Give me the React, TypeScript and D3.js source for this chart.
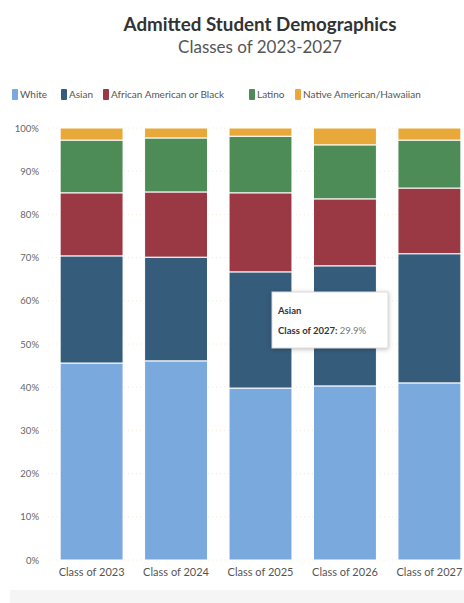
import React, { useRef, useEffect } from "react";
import * as d3 from "d3";

const classes = ["Class of 2023", "Class of 2024", "Class of 2025", "Class of 2026", "Class of 2027"];
const groups = ["White", "Asian", "African American or Black", "Latino", "Native American/Hawaiian"];
const legendLabels = ["White", "Asian", "African American or Black", "Latino", "Native American/Hawaiian"];

const white = [45.6, 46.1, 39.8, 40.3, 41.0];
const asian = [24.8, 24.0, 26.9, 27.8, 29.9];
const black = [14.6, 15.1, 18.3, 15.5, 15.2];
const latino = [12.2, 12.5, 13.1, 12.5, 11.1];
const native = [2.8, 2.3, 1.9, 3.9, 2.8];

const yTicks = [0, 10, 20, 30, 40, 50, 60, 70, 80, 90, 100];
const colors = ["#79a9dd", "#365c7c", "#9a3944", "#4d8c57", "#e8a83a"];

const W = 464;
const H = 603;

const App = () => {
  const ref = useRef<SVGSVGElement>(null);

  useEffect(() => {
    const svg = d3.select(ref.current);
    svg.selectAll("*").remove();
    const font = "Lato, 'Open Sans', sans-serif";

    const rows = classes.map((c, i) => ({
      cls: c,
      White: white[i],
      Asian: asian[i],
      "African American or Black": black[i],
      Latino: latino[i],
      "Native American/Hawaiian": native[i],
    }));
    const stacked = d3.stack<any>().keys(groups)(rows);

    const x = d3.scaleBand().domain(classes).range([50, 471]).paddingInner(0.255).paddingOuter(0.12);
    const y = d3.scaleLinear().domain([0, 100]).range([560, 128]);
    const color = d3.scaleOrdinal<string>().domain(groups).range(colors);

    // footer band
    svg.append("rect").attr("x", 10).attr("y", 590).attr("width", W - 10).attr("height", 13).attr("fill", "#f5f5f5");

    // title
    svg.append("text").attr("x", 260).attr("y", 31).attr("text-anchor", "middle")
      .attr("font-family", font).attr("font-weight", 700).attr("font-size", 18.8).attr("fill", "#333")
      .text("Admitted Student Demographics");
    svg.append("text").attr("x", 260).attr("y", 53).attr("text-anchor", "middle")
      .attr("font-family", font).attr("font-size", 17).attr("fill", "#555")
      .text("Classes of 2023-2027");

    // legend
    const legendX = [12, 61, 103, 249, 295];
    const lg = svg.append("g").attr("font-family", font).attr("font-size", 10).attr("fill", "#555");
    groups.forEach((g, i) => {
      lg.append("rect").attr("x", legendX[i]).attr("y", 89).attr("width", 6).attr("height", 11)
        .attr("rx", 1).attr("fill", color(g));
      lg.append("text").attr("x", legendX[i] + 8).attr("y", 98).text(legendLabels[i]);
    });

    // y axis
    const yAxis = svg.append("g").attr("transform", "translate(40,0)")
      .call(d3.axisLeft(y).tickValues(yTicks).tickFormat((d) => `${d}%`).tickSize(0))
      .call((g) => g.select(".domain").remove());
    yAxis.selectAll("text").attr("font-family", font).attr("font-size", 9.5).attr("fill", "#666").attr("dx", 2);

    // faint gridlines
    svg.append("g").selectAll("line").data(yTicks).join("line")
      .attr("x1", 48).attr("x2", W).attr("y1", (d) => y(d)).attr("y2", (d) => y(d))
      .attr("stroke", "#f3ead8").attr("stroke-dasharray", "1,3");

    // bars
    svg.append("g").selectAll("g").data(stacked).join("g")
      .attr("fill", (d) => color(d.key))
      .selectAll("rect").data((d) => d).join("rect")
      .attr("x", (d) => x(d.data.cls)!)
      .attr("y", (d) => y(d[1]))
      .attr("width", x.bandwidth())
      .attr("height", (d) => y(d[0]) - y(d[1]))
      .attr("stroke", "#fff").attr("stroke-width", 1);

    // x axis
    const xAxis = svg.append("g").attr("transform", "translate(0,564)")
      .call(d3.axisBottom(x).tickSize(0))
      .call((g) => g.select(".domain").remove());
    xAxis.selectAll("text").attr("font-family", font).attr("font-size", 11).attr("fill", "#555").attr("dy", "0.85em");

    // tooltip
    const tip = svg.append("g").attr("transform", "translate(272,292)");
    tip.append("rect").attr("width", 116).attr("height", 56).attr("fill", "#fff")
      .attr("stroke", "#ddd").style("filter", "drop-shadow(0 1px 2px rgba(0,0,0,0.25))");
    tip.append("text").attr("x", 6).attr("y", 22).attr("font-family", font).attr("font-weight", 700)
      .attr("font-size", 9.5).attr("fill", "#333").text("Asian");
    const t2 = tip.append("text").attr("x", 6).attr("y", 42).attr("font-family", font).attr("font-size", 9.5);
    t2.append("tspan").attr("font-weight", 700).attr("fill", "#333").text("Class of 2027: ");
    t2.append("tspan").attr("fill", "#777").text(`${asian[4]}%`);
  }, []);

  return <svg ref={ref} width={W} height={H} style={{ position: "absolute", left: 0, top: 0 }} />;
};

export default App;
